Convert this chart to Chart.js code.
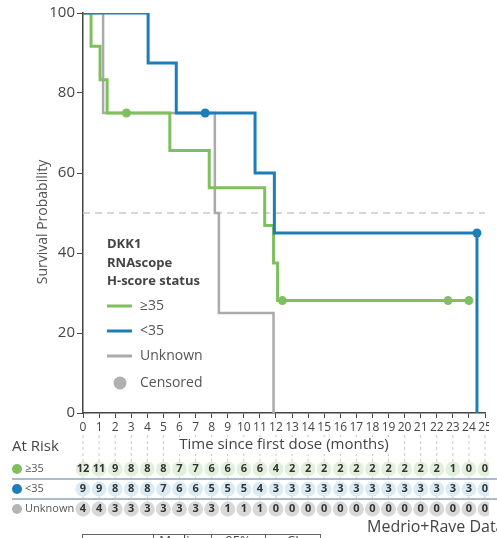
<!DOCTYPE html>
<html lang="en">
<head>
<meta charset="UTF-8">
<title>DKK1 RNAscope survival</title>
<script src="https://cdn.jsdelivr.net/npm/chart.js"></script>
<style>
  html, body { margin: 0; padding: 0; background: #fff; }
  canvas { display: block; }
</style>
</head>
<body>
<canvas id="kmChart" width="497" height="538"></canvas>
<script>
// Kaplan-Meier steps: time (months) and survival (%) after each event
var highTimes = [0, 0.5, 1.06, 1.5, 5.4, 7.85, 11.3, 11.85, 12.1, 24.0];
var highSurv = [100, 91.7, 83.3, 75, 65.6, 56.3, 46.9, 37.5, 28.1, 28.1];
var highCensorTimes = [2.7, 12.4, 22.7, 24.0];
var highCensorSurv = [75, 28.1, 28.1, 28.1];

var lowTimes = [0, 4.05, 5.8, 10.7, 11.9, 24.5, 24.5];
var lowSurv = [100, 87.5, 75, 60, 45, 45, 0];
var lowCensorTimes = [7.6, 24.5];
var lowCensorSurv = [75, 45];

var unkTimes = [0, 1.25, 8.2, 8.45, 11.85];
var unkSurv = [100, 75, 50, 25, 0];

var refTimes = [0, 25];
var refSurv = [50, 50];

// number at risk per month
var riskMonths = [0, 1, 2, 3, 4, 5, 6, 7, 8, 9, 10, 11, 12, 13, 14, 15, 16, 17, 18, 19, 20, 21, 22, 23, 24, 25];
var riskHigh = [12, 11, 9, 8, 8, 8, 7, 7, 6, 6, 6, 6, 4, 2, 2, 2, 2, 2, 2, 2, 2, 2, 2, 1, 0, 0];
var riskLow = [9, 9, 8, 8, 8, 7, 6, 6, 5, 5, 5, 4, 3, 3, 3, 3, 3, 3, 3, 3, 3, 3, 3, 3, 3, 0];
var riskUnk = [4, 4, 3, 3, 3, 3, 3, 3, 3, 1, 1, 1, 0, 0, 0, 0, 0, 0, 0, 0, 0, 0, 0, 0, 0, 0];

var GREEN = '#7fbf5f';
var BLUE = '#1c7db8';
var GREY = '#aaaaaa';
var FONT = '"Open Sans", "DejaVu Sans", sans-serif';
var CUT_X = 489; // source figure is cropped here

function pts(xs, ys) {
    return xs.map(function (x, i) { return { x: x, y: ys[i] }; });
}

// legend, y title, at-risk table and footer drawn on the canvas
var extrasPlugin = {
    id: 'extras',
    afterDraw: function (chart) {
        var ctx = chart.ctx;
        var xs = chart.scales.x;
        ctx.save();

        // cropped edge of the tick labels
        ctx.fillStyle = '#fff';
        ctx.fillRect(CUT_X, 418, 497 - CUT_X, 18);

        // y axis title
        ctx.save();
        ctx.translate(43, 222);
        ctx.rotate(-Math.PI / 2);
        ctx.fillStyle = '#555';
        ctx.font = '14px ' + FONT;
        ctx.textAlign = 'center';
        ctx.textBaseline = 'middle';
        ctx.fillText('Survival Probability', 0, 0);
        ctx.restore();

        // legend box in the plot
        ctx.fillStyle = '#444';
        ctx.font = 'bold 13px ' + FONT;
        ctx.textAlign = 'left';
        ctx.textBaseline = 'middle';
        ctx.fillText('DKK1', 107, 244);
        ctx.fillText('RNAscope', 107, 263);
        ctx.fillText('H-score status', 107, 281);
        var items = [['\u226535', GREEN, 306], ['<35', BLUE, 331], ['Unknown', GREY, 356]];
        ctx.font = '14px ' + FONT;
        items.forEach(function (it) {
            ctx.strokeStyle = it[1];
            ctx.lineWidth = 3;
            ctx.beginPath();
            ctx.moveTo(107, it[2]);
            ctx.lineTo(132, it[2]);
            ctx.stroke();
            ctx.fillStyle = '#555';
            ctx.fillText(it[0], 140, it[2]);
        });
        ctx.fillStyle = '#b0b0b0';
        ctx.beginPath();
        ctx.arc(120, 383, 6.5, 0, Math.PI * 2);
        ctx.fill();
        ctx.fillStyle = '#555';
        ctx.fillText('Censored', 140, 383);

        // dashed guides under the tick labels
        ctx.strokeStyle = '#c8c8c8';
        ctx.lineWidth = 1;
        ctx.setLineDash([3, 3]);
        riskMonths.forEach(function (m) {
            var px = xs.getPixelForValue(m);
            if (px > CUT_X) return;
            ctx.beginPath();
            ctx.moveTo(px, 435);
            ctx.lineTo(px, 514);
            ctx.stroke();
        });
        ctx.setLineDash([]);

        // x title with a white backing
        ctx.font = '15px ' + FONT;
        ctx.textAlign = 'center';
        var title = 'Time since first dose (months)';
        var tw = ctx.measureText(title).width;
        var cx = (xs.left + xs.right) / 2;
        ctx.fillStyle = '#fff';
        ctx.fillRect(cx - tw / 2 - 3, 437, tw + 6, 17);
        ctx.fillStyle = '#444';
        ctx.fillText(title, cx, 445);

        ctx.textAlign = 'left';
        ctx.fillText('At Risk', 12, 447);

        // row separators
        ctx.strokeStyle = '#a8bccb';
        ctx.lineWidth = 2;
        [479, 499].forEach(function (y) {
            ctx.beginPath();
            ctx.moveTo(12, y);
            ctx.lineTo(497, y);
            ctx.stroke();
        });

        var rows = [
            { label: '\u226535', dot: GREEN, bg: '#e2efda', vals: riskHigh, y: 469 },
            { label: '<35', dot: BLUE, bg: '#dbebf5', vals: riskLow, y: 489 },
            { label: 'Unknown', dot: '#b5b5b5', bg: '#d8d8d8', vals: riskUnk, y: 509 }
        ];
        ctx.save();
        ctx.beginPath();
        ctx.rect(0, 455, CUT_X, 65);
        ctx.clip();
        rows.forEach(function (row) {
            ctx.fillStyle = row.dot;
            ctx.beginPath();
            ctx.arc(17, row.y, 5, 0, Math.PI * 2);
            ctx.fill();
            ctx.fillStyle = '#555';
            ctx.font = '11px ' + FONT;
            ctx.textAlign = 'left';
            ctx.fillText(row.label, 25, row.y);

            ctx.font = 'bold 11px ' + FONT;
            ctx.textAlign = 'center';
            row.vals.forEach(function (v, i) {
                var px = xs.getPixelForValue(riskMonths[i]);
                ctx.fillStyle = row.bg;
                ctx.beginPath();
                ctx.arc(px, row.y, 7.5, 0, Math.PI * 2);
                ctx.fill();
                ctx.fillStyle = '#333';
                ctx.fillText(String(v), px, row.y);
            });
        });
        ctx.restore();

        // footer
        ctx.font = '16px ' + FONT;
        ctx.textAlign = 'left';
        ctx.textBaseline = 'middle';
        ctx.fillStyle = '#444';
        ctx.fillText('Medrio+Rave Data', 367, 527);

        // top edge of the summary table below (cut off)
        ctx.strokeStyle = '#666';
        ctx.lineWidth = 1;
        ctx.beginPath();
        ctx.moveTo(82, 534.5);
        ctx.lineTo(320, 534.5);
        [82, 153, 211, 265, 320].forEach(function (x) {
            ctx.moveTo(x + 0.5, 534);
            ctx.lineTo(x + 0.5, 538);
        });
        ctx.stroke();
        ctx.fillStyle = '#444';
        ctx.font = '13px ' + FONT;
        ctx.textAlign = 'center';
        ctx.textBaseline = 'top';
        ctx.fillText('Median', 182, 535);
        ctx.fillText('95%', 238, 535);
        ctx.fillText('CI', 293, 535);

        ctx.restore();
    }
};

var ctx = document.getElementById('kmChart').getContext('2d');
var kmChart = new Chart(ctx, {
    type: 'line',
    data: {
        datasets: [
            {
                label: 'censored high',
                data: pts(highCensorTimes, highCensorSurv),
                showLine: false,
                pointRadius: 4.5,
                pointBackgroundColor: GREEN,
                pointBorderWidth: 0,
                order: 0
            },
            {
                label: 'censored low',
                data: pts(lowCensorTimes, lowCensorSurv),
                showLine: false,
                pointRadius: 4.5,
                pointBackgroundColor: BLUE,
                pointBorderWidth: 0,
                order: 0
            },
            {
                label: '<35',
                data: pts(lowTimes, lowSurv),
                borderColor: BLUE,
                borderWidth: 3,
                stepped: 'before',
                pointRadius: 0,
                order: 1
            },
            {
                label: '\u226535',
                data: pts(highTimes, highSurv),
                borderColor: GREEN,
                borderWidth: 3,
                stepped: 'before',
                pointRadius: 0,
                order: 2
            },
            {
                label: 'Unknown',
                data: pts(unkTimes, unkSurv),
                borderColor: GREY,
                borderWidth: 2.5,
                stepped: 'before',
                pointRadius: 0,
                order: 3
            },
            {
                label: 'median',
                data: pts(refTimes, refSurv),
                borderColor: '#c9c9c9',
                borderWidth: 1.5,
                borderDash: [7, 5],
                pointRadius: 0,
                order: 4
            }
        ]
    },
    options: {
        responsive: false,
        animation: false,
        devicePixelRatio: 1,
        layout: { padding: { top: 13, right: 12, left: 0, bottom: 0 } },
        scales: {
            x: {
                type: 'linear',
                min: 0,
                max: 25,
                afterFit: function (s) { s.height = 125; },
                border: { color: '#444', width: 1.5 },
                grid: { drawOnChartArea: false, drawTicks: true, tickLength: 5, tickColor: '#444' },
                ticks: {
                    stepSize: 1,
                    autoSkip: false,
                    maxRotation: 0,
                    padding: 2,
                    color: '#444',
                    font: { family: FONT, size: 12 }
                }
            },
            y: {
                min: 0,
                max: 100,
                afterFit: function (s) { s.width = 83; },
                border: { color: '#444', width: 1.5 },
                grid: { drawOnChartArea: false, drawTicks: true, tickLength: 6, tickColor: '#444' },
                ticks: {
                    stepSize: 20,
                    padding: 2,
                    color: '#444',
                    font: { family: FONT, size: 15 }
                }
            }
        },
        plugins: {
            legend: { display: false },
            tooltip: { enabled: false }
        }
    },
    plugins: [extrasPlugin]
});
</script>
</body>
</html>
